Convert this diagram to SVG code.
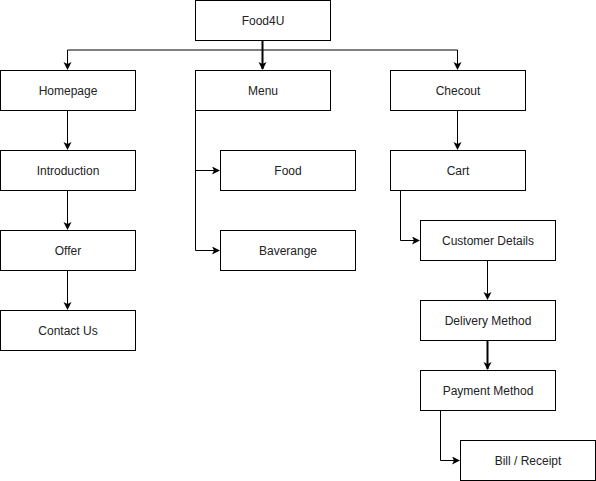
<svg xmlns="http://www.w3.org/2000/svg" width="596" height="481" viewBox="0 0 596 481">
<defs>
<marker id="arr" markerWidth="10" markerHeight="10" refX="7" refY="4" orient="auto" markerUnits="userSpaceOnUse">
<path d="M0,0 L8,4 L0,8 L2,4 Z" fill="#000"/>
</marker>
<style>
.n rect{fill:#fff;stroke:#000;stroke-width:1}
.n text{font-family:"Liberation Sans",Arial,sans-serif;font-size:12px;fill:#222;text-anchor:middle;dominant-baseline:central}
.c path{fill:none;stroke:#000;stroke-width:1;marker-end:url(#arr)}
.c path.t{stroke-width:2}
</style>
</defs>
<rect width="596" height="481" fill="#fff"/>
<g class="c">
<path d="M262.5,40 V50 H67.5 V69"/>
<path class="t" d="M262.5,40 V69"/>
<path d="M262.5,50 H457.5 V69"/>
<path d="M67.5,110 V149"/>
<path d="M67.5,190 V229"/>
<path d="M67.5,270 V309"/>
<path d="M195.5,110 V170.5 H219"/>
<path d="M195.5,170 V250.5 H219"/>
<path d="M457.5,110 V149"/>
<path d="M400.5,190 V240.5 H419"/>
<path d="M487.5,260 V299" stroke="#555"/>
<path class="t" d="M487.5,340 V369"/>
<path d="M440.5,410 V460.5 H459"/>
</g>
<g id="food4u" class="n"><rect x="195.5" y="0.5" width="135" height="40"/><text x="263" y="20.5">Food4U</text></g>
<g id="homepage" class="n"><rect x="0.5" y="70.5" width="135" height="40"/><text x="68" y="90.5">Homepage</text></g>
<g id="menu" class="n"><rect x="195.5" y="70.5" width="135" height="40"/><text x="263" y="90.5">Menu</text></g>
<g id="checkout" class="n"><rect x="390.5" y="70.5" width="135" height="40"/><text x="458" y="90.5">Checout</text></g>
<g id="introduction" class="n"><rect x="0.5" y="150.5" width="135" height="40"/><text x="68" y="170.5">Introduction</text></g>
<g id="offer" class="n"><rect x="0.5" y="230.5" width="135" height="40"/><text x="68" y="250.5">Offer</text></g>
<g id="contact" class="n"><rect x="0.5" y="310.5" width="135" height="40"/><text x="68" y="330.5">Contact Us</text></g>
<g id="food" class="n"><rect x="220.5" y="150.5" width="135" height="40"/><text x="288" y="170.5">Food</text></g>
<g id="baverange" class="n"><rect x="220.5" y="230.5" width="135" height="40"/><text x="288" y="250.5">Baverange</text></g>
<g id="cart" class="n"><rect x="390.5" y="150.5" width="135" height="40"/><text x="458" y="170.5">Cart</text></g>
<g id="customer" class="n"><rect x="420.5" y="220.5" width="135" height="40"/><text x="488" y="240.5">Customer Details</text></g>
<g id="delivery" class="n"><rect x="420.5" y="300.5" width="135" height="40"/><text x="488" y="320.5">Delivery Method</text></g>
<g id="payment" class="n"><rect x="420.5" y="370.5" width="135" height="40"/><text x="488" y="390.5">Payment Method</text></g>
<g id="bill" class="n"><rect x="460.5" y="440.5" width="135" height="40"/><text x="528" y="460.5">Bill / Receipt</text></g>
</svg>
